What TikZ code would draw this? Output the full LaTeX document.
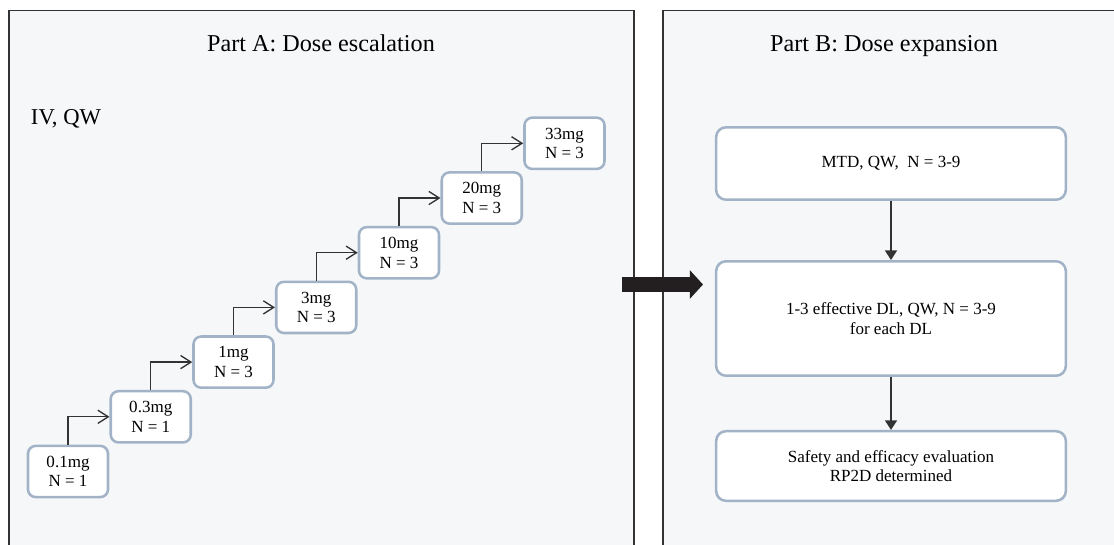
\documentclass[tikz,border=0pt]{standalone}
\usepackage{fontspec}
\setmainfont{Liberation Serif}
\usetikzlibrary{arrows.meta}
\definecolor{panelbg}{HTML}{F5F7F9}
\definecolor{boxedge}{HTML}{A2B3C7}
\definecolor{inkgray}{HTML}{333333}
\definecolor{arrowink}{HTML}{231F20}

\begin{document}
\begin{tikzpicture}[x=0.025cm, y=-0.025cm,
  dosebox/.style={draw=boxedge, line width=1.8pt, fill=white, rounded corners=5.5pt,
    minimum width=2.0cm, minimum height=1.28cm, inner sep=0pt, align=center,
    font=\fontsize{12.1}{13.9}\selectfont},
  phasebox/.style={dosebox, rounded corners=7pt, minimum width=8.74cm},
  steparrow/.style={inkgray, line width=0.95pt, -{Straight Barb[length=0.26cm,width=0.33cm]}},
  downarrow/.style={inkgray, line width=1pt, -{Triangle[length=0.24cm,width=0.3cm]}},
  paneltitle/.style={anchor=base, font=\fontsize{17.2}{20}\selectfont}]
\useasboundingbox (0,0) rectangle (1114,545);
% Panel backgrounds and frames
\fill[panelbg] (9,10.5) rectangle (634,545);
\draw[inkgray, line width=0.9pt] (9,546) -- (9,10.5) -- (634,10.5) -- (634,546);
\fill[panelbg] (663,10.5) rectangle (1115,545);
\draw[inkgray, line width=0.9pt] (663,546) -- (663,10.5) -- (1115,10.5);
% Titles
\node[paneltitle] (titlea) at (321,52) {Part A: Dose escalation};
\node[paneltitle] (titleb) at (884,52) {Part B: Dose expansion};
\node[anchor=base west, font=\fontsize{16.1}{19}\selectfont] (route) at (26,124) {IV, QW};
% Dose escalation staircase
\foreach [count=\i] \dose/\size in {0.1mg/1,0.3mg/1,1mg/3,3mg/3,10mg/3,20mg/3,33mg/3}{
  \node[dosebox] (d\i) at ({68 + (\i-1)*82.75},{471.5 - (\i-1)*54.7}) {\dose\\N = \size};
}
\foreach \i in {1,...,6}{
  \pgfmathtruncatemacro{\j}{\i+1}
  \draw[steparrow] (d\i.north) |- (d\j.west);
}
% Transfer arrow
\coordinate (pushtail) at (622,284.5);
\coordinate (pushtip) at (703,284.5);
\draw[arrowink, line width=0.375cm, -{Triangle[length=0.33cm,width=0.7cm]}] (pushtail) -- (pushtip);
% Dose expansion boxes
\node[phasebox, minimum height=1.81cm] (mtd) at (891,163.5) {MTD, QW, \ N = 3-9};
\node[phasebox, minimum height=2.86cm] (effective) at (891,318.5) {1-3 effective DL, QW, N = 3-9\\for each DL};
\node[phasebox, minimum height=1.74cm] (safety) at (891,466) {Safety and efficacy evaluation\\RP2D determined};
\draw[downarrow] (mtd) -- (effective);
\draw[downarrow] (effective) -- (safety);
\end{tikzpicture}
\end{document}
